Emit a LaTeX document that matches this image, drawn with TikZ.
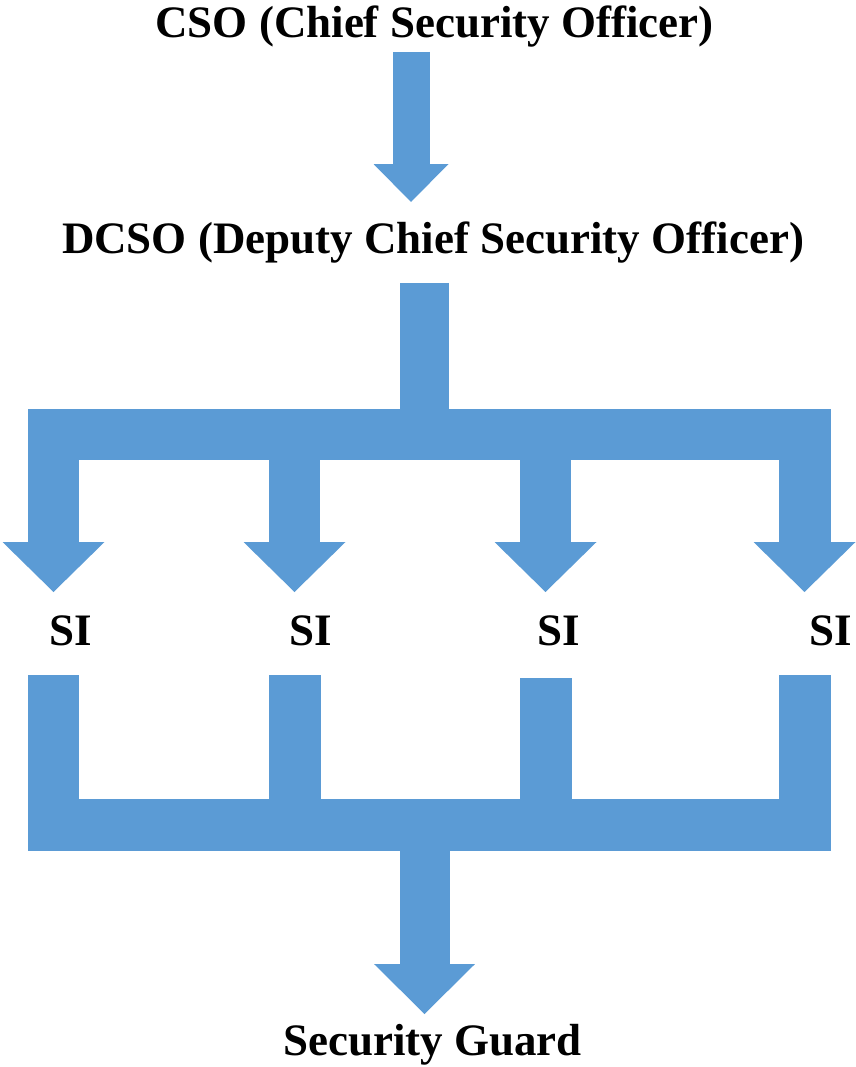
\documentclass[tikz,border=0pt]{standalone}
\usepackage{fontspec}
\setmainfont{Liberation Serif}
\usetikzlibrary{arrows.meta}
\definecolor{orgblue}{HTML}{5B9BD5}

\begin{document}
\begin{tikzpicture}[x=0.02cm, y=-0.02cm,
    rank/.style={anchor=base, inner sep=0pt, font=\fontsize{25.6}{30}\selectfont\bfseries},
    thinflow/.style={orgblue, line width=0.74cm, -{Triangle[width=1.5cm, length=0.76cm, line width=0pt]}},
    flow/.style={orgblue, line width=1.02cm, -{Triangle[width=2.04cm, length=1cm, line width=0pt]}},
    bus/.style={orgblue, line width=1.04cm, line join=miter}
]
\useasboundingbox (0,0) rectangle (855,1067);

% ranks
\node[rank] (cso) at (434.5,38) {CSO (Chief Security Officer)};
\node[rank] (dcso) at (433,254) {DCSO (Deputy Chief Security Officer)};
\node[rank] (si1) at (71,645) {SI};
\node[rank] (si2) at (311,645) {SI};
\node[rank] (si3) at (559,645) {SI};
\node[rank] (si4) at (831,645) {SI};
\node[rank] (guard) at (432.5,1055) {Security Guard};

% arrow ends
\coordinate (cso-out) at (411,52);
\coordinate (dcso-in) at (411,202);
\coordinate (dcso-out) at (424.5,283);
\coordinate (split) at (424.5,434.5);
\coordinate (tip1) at (53.5,592);
\coordinate (tip2) at (294.5,592);
\coordinate (tip3) at (545.5,592);
\coordinate (tip4) at (804.5,592);
\coordinate (out1) at (53.5,675);
\coordinate (out2) at (294.5,675);
\coordinate (out3) at (545.5,678);
\coordinate (out4) at (804.5,675);
\coordinate (join) at (424.5,825);
\coordinate (guard-in) at (424.5,1014);

% CSO -> DCSO
\draw[thinflow] (cso-out) -- (dcso-in);

% DCSO -> SI
\draw[orgblue, line width=0.98cm] (dcso-out) -- (split);
\draw[bus, {Triangle[width=2.04cm, length=1cm, line width=0pt]}-{Triangle[width=2.04cm, length=1cm, line width=0pt]}]
  (tip1) -- (tip1 |- split) -- (tip4 |- split) -- (tip4);
\draw[flow] (tip2 |- split) -- (tip2);
\draw[flow] (tip3 |- split) -- (tip3);

% SI -> Security Guard
\draw[bus] (out1) -- (out1 |- join) -- (out4 |- join) -- (out4);
\draw[bus] (out2) -- (out2 |- join);
\draw[bus] (out3) -- (out3 |- join);
\draw[orgblue, line width=1cm, -{Triangle[width=2.02cm, length=1cm, line width=0pt]}] (join) -- (guard-in);
\end{tikzpicture}
\end{document}
